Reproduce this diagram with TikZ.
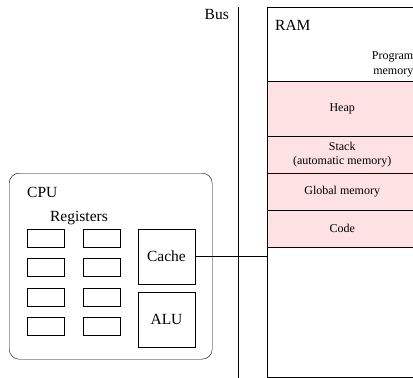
\documentclass[tikz,border=0pt]{standalone}
\usepackage{fontspec}
\setmainfont{Liberation Serif}
\usepackage{xcolor}
\usetikzlibrary{positioning,calc}
\definecolor{mempink}{RGB}{253,225,227}
\tikzset{
  big/.style = {font = \fontsize{15.5}{17}\selectfont, inner sep = 0pt},
  reg/.style = {draw, minimum width = 37pt, minimum height = 18pt, inner sep = 0pt},
  unit/.style = {draw, minimum width = 57pt, minimum height = 55pt, inner sep = 0pt, font = \fontsize{15.5}{17}\selectfont},
  seg/.style = {draw, fill = mempink, anchor = north west, minimum width = 150pt, minimum height = 37pt, inner sep = 0pt, align = center, font = \fontsize{12}{14}\selectfont}
}

\begin{document}
\begin{tikzpicture}[x = 1pt, y = -1pt]
    \useasboundingbox (0,0) rectangle (413,378);
    \clip (0,0) rectangle (413,378);
    % RAM and its parts
    \node[draw, anchor = north west, minimum width = 150pt, minimum height = 370pt, inner sep = 0pt] (ram) at (267,7) {};
    \node[big, anchor = west] (ramlabel) at (275,25) {RAM};
    \node[anchor = east, align = right, font = \fontsize{12}{15}\selectfont, inner sep = 0pt] (prog) at (413.5,64) {Program\\memory};
    \node[seg, minimum height = 55pt] (heap) at (267,81) {Heap};
    \node[seg] (stack) at (267,136) {Stack\\(automatic memory)};
    \node[seg] (glob) at (267,173) {Global memory};
    \node[seg] (code) at (267,210) {Code};
    % bus
    \coordinate (bustop) at (238,7);
    \coordinate (busbot) at (238,378);
    \draw (bustop) -- (busbot);
    \node[big, anchor = east] (buslabel) at (229,14) {Bus};
    % CPU
    \node[draw, rounded corners = 10pt, anchor = north west, minimum width = 203pt, minimum height = 186pt, inner sep = 0pt] (cpu) at (9,173) {};
    \node[big, anchor = west] (cpulabel) at (27,192) {CPU};
    \node[big] (reglabel) at (79,218) {Registers};
    \foreach \r/\y in {1/238, 2/267.5, 3/297, 4/326.5} {
        \node[reg] (ra\r) at (45.5,\y) {};
        \node[reg] (rb\r) at (101.5,\y) {};
    }
    \node[unit] (cache) at (166.5,256.5) {Cache};
    \node[unit] (alu) at (166.5,319.5) {ALU};
    \draw (cache.east) -- (cache.east -| ram.west);
\end{tikzpicture}
\end{document}
